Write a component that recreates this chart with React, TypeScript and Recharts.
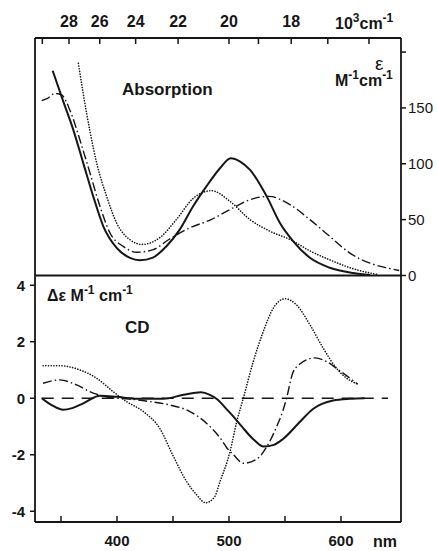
import React from 'react';
import { LineChart, Line, XAxis, YAxis, ReferenceLine } from 'recharts';

// ---------- Absorption (ε, M^-1 cm^-1) vs wavelength (nm) ----------
const absSolidNm = [342.6, 352.1, 361, 369.9, 378.8, 387.8, 399.7, 411.6, 420.5, 432, 444, 456, 468, 480, 492, 501.5, 510, 518.8, 533.7, 545.5, 557.4, 572.3, 590, 611, 626];
const absSolidEps = [183.3, 155.6, 130.4, 100.6, 70.8, 44, 24.7, 15.8, 13.7, 16, 26, 41, 62, 80, 96, 105, 102, 94.6, 70.8, 47, 30.6, 15.8, 6.9, 2.2, 0.5];

const absDashDotNm = [332.8, 338, 344.6, 350.6, 358, 367, 375.9, 384.8, 393.8, 405.6, 417.6, 432.4, 446, 465, 484, 500.9, 518.8, 535.5, 554.5, 572.3, 590, 608, 626, 640, 652];
const absDashDotEps = [156.5, 158.5, 163, 161.6, 148, 121, 91.7, 61.9, 38, 26, 20.8, 23.2, 32, 42.6, 50, 59, 67.9, 70.8, 63.4, 50, 35, 20, 11, 7, 4.5];

const absDottedNm = [365.5, 370, 375.9, 381.9, 390.8, 399.7, 411.6, 422.5, 438.4, 453, 468, 484.5, 501, 518.8, 536.6, 555, 572.3, 590, 611, 632];
const absDottedEps = [190, 162, 129, 100.6, 70.8, 47, 32, 27.8, 34, 50, 69, 75.9, 66.3, 50, 39.6, 32, 22, 14, 6, 1];

// ---------- CD (Δε, M^-1 cm^-1) vs wavelength (nm) ----------
const cdSolidNm = [332.8, 342, 352, 360, 369.9, 384.8, 399.7, 417.6, 441.4, 459.2, 475, 483, 490, 497, 504, 511, 521.7, 531, 540, 548, 563, 575, 593, 608, 621];
const cdSolidVal = [0, -0.25, -0.41, -0.35, -0.18, 0.09, 0.05, -0.02, -0.02, 0.12, 0.21, 0.12, -0.05, -0.35, -0.65, -0.98, -1.45, -1.71, -1.65, -1.45, -0.85, -0.38, -0.08, -0.02, 0];

const cdDashDotNm = [334, 349, 364, 378.8, 393.8, 411.6, 429.5, 447.3, 465.2, 483, 492, 498, 504, 513, 525, 534, 542.6, 548.5, 551.4, 557, 563, 569, 577, 587, 599, 615];
const cdDashDotVal = [0.53, 0.65, 0.47, 0.18, 0.03, -0.03, -0.12, -0.24, -0.47, -1.0, -1.4, -1.75, -2.0, -2.3, -2.15, -1.7, -1.0, -0.4, 0, 0.9, 1.2, 1.36, 1.43, 1.3, 0.97, 0.5];

const cdDottedNm = [334, 349, 367, 381.8, 396.7, 408.6, 423.5, 438.4, 450.3, 462.2, 471.2, 479, 487, 492, 500.9, 506.9, 512.8, 521.7, 530.6, 539.6, 550, 560.4, 572.3, 584.2, 596, 605, 615];
const cdDottedVal = [1.15, 1.15, 1.0, 0.71, 0.23, -0.12, -0.47, -1.08, -2.05, -2.95, -3.42, -3.7, -3.5, -2.95, -1.89, -0.83, 0, 1.3, 2.36, 3.19, 3.52, 3.3, 2.6, 1.77, 1.06, 0.71, 0.5];

const cdZeroNm = [332.8, 642];
const cdZeroVal = [0, 0];

// ---------- Axes ----------
const nmTicks = [350, 400, 450, 500, 550, 600];
const nmLabels = [400, 500, 600];
const waveTicks = [30, 28, 26, 24, 22, 20, 19, 18, 17, 16]; // 10^3 cm^-1
const waveLabels = [28, 26, 24, 22, 20, 18];
const epsTicks = [0, 50, 100, 150, 200];
const epsLabels = [0, 50, 100, 150];
const cdTicks = [-4, -2, 0, 2, 4];

const nmDomain: [number, number] = [326.8, 653.6];
const epsDomain: [number, number] = [-220.7, 212.6];
const cdDomain: [number, number] = [-4.38, 12.75];

const zip = (xs: number[], ys: number[]) => xs.map((x, i) => ({ x, v: ys[i] }));

const INK = '#161616';
const FONT = '"Liberation Sans", Arial, sans-serif';
const tickStyle = { fontSize: 15, fontWeight: 'bold', fill: INK, fontFamily: FONT } as any;

const waveTickNm = waveTicks.map((k) => 1e4 / k);

export default function App() {
  return (
    <div style={{ position: 'absolute', left: 0, top: 0, width: 437, height: 551, background: '#fff' }}>
      <LineChart width={437} height={551} margin={{ top: 0, right: 0, bottom: 0, left: 0 }}>
        <XAxis
          xAxisId="t"
          orientation="top"
          type="number"
          dataKey="x"
          domain={nmDomain}
          allowDataOverflow
          ticks={waveTickNm}
          interval={0}
          height={38}
          tickSize={-6}
          tickMargin={17}
          tick={{ ...tickStyle, fontSize: 16 }}
          tickFormatter={(nm: number) => {
            const k = Math.round(1e4 / nm);
            return waveLabels.includes(k) ? String(k) : '';
          }}
          axisLine={{ stroke: INK, strokeWidth: 1.8 }}
          tickLine={{ stroke: INK, strokeWidth: 1.5 }}
        />
        <XAxis
          xAxisId="b"
          orientation="bottom"
          type="number"
          dataKey="x"
          domain={nmDomain}
          allowDataOverflow
          ticks={nmTicks}
          interval={0}
          height={29}
          tickSize={-6}
          tickMargin={19}
          tick={tickStyle}
          tickFormatter={(v: number) => (nmLabels.includes(v) ? String(v) : '')}
          axisLine={{ stroke: INK, strokeWidth: 1.8 }}
          tickLine={{ stroke: INK, strokeWidth: 1.5 }}
        />
        <YAxis
          yAxisId="cd"
          orientation="left"
          type="number"
          domain={cdDomain}
          allowDataOverflow
          ticks={cdTicks}
          interval={0}
          width={35}
          tickSize={5}
          tickMargin={5}
          tick={tickStyle}
          axisLine={{ stroke: INK, strokeWidth: 1.8 }}
          tickLine={{ stroke: INK, strokeWidth: 1.5 }}
        />
        <YAxis
          yAxisId="abs"
          orientation="right"
          type="number"
          domain={epsDomain}
          allowDataOverflow
          ticks={epsTicks}
          interval={0}
          width={36}
          tickSize={5}
          tickMargin={2}
          tick={{ ...tickStyle, fontWeight: 'normal' }}
          tickFormatter={(v: number) => (epsLabels.includes(v) ? String(v) : '')}
          axisLine={{ stroke: INK, strokeWidth: 1.8 }}
          tickLine={{ stroke: INK, strokeWidth: 1.5 }}
        />
        <ReferenceLine xAxisId="t" yAxisId="abs" y={0} stroke={INK} strokeWidth={1.8} />

        {/* Absorption */}
        <Line xAxisId="t" yAxisId="abs" data={zip(absSolidNm, absSolidEps)} dataKey="v" type="monotone" stroke={INK} strokeWidth={2} dot={false} isAnimationActive={false} />
        <Line xAxisId="t" yAxisId="abs" data={zip(absDashDotNm, absDashDotEps)} dataKey="v" type="monotone" stroke={INK} strokeWidth={1.4} strokeDasharray="9 3 1.5 3" dot={false} isAnimationActive={false} />
        <Line xAxisId="t" yAxisId="abs" data={zip(absDottedNm, absDottedEps)} dataKey="v" type="monotone" stroke={INK} strokeWidth={1.6} strokeDasharray="0.1 2.6" strokeLinecap="round" dot={false} isAnimationActive={false} />

        {/* CD */}
        <Line xAxisId="b" yAxisId="cd" data={zip(cdZeroNm, cdZeroVal)} dataKey="v" type="linear" stroke={INK} strokeWidth={1.5} strokeDasharray="12 8" dot={false} isAnimationActive={false} />
        <Line xAxisId="b" yAxisId="cd" data={zip(cdSolidNm, cdSolidVal)} dataKey="v" type="monotone" stroke={INK} strokeWidth={2} dot={false} isAnimationActive={false} />
        <Line xAxisId="b" yAxisId="cd" data={zip(cdDashDotNm, cdDashDotVal)} dataKey="v" type="monotone" stroke={INK} strokeWidth={1.4} strokeDasharray="9 3 1.5 3" dot={false} isAnimationActive={false} />
        <Line xAxisId="b" yAxisId="cd" data={zip(cdDottedNm, cdDottedVal)} dataKey="v" type="monotone" stroke={INK} strokeWidth={1.6} strokeDasharray="0.1 2.6" strokeLinecap="round" dot={false} isAnimationActive={false} />
      </LineChart>

      <svg width={437} height={551} style={{ position: 'absolute', left: 0, top: 0, pointerEvents: 'none' }} fontFamily={FONT} fontWeight="bold" fill={INK}>
        <text x={335} y={29} fontSize={16}>
          10<tspan dy={-7} fontSize={12}>3</tspan>
          <tspan dy={7} fontSize={16}>cm</tspan>
          <tspan dy={-7} fontSize={12}>-1</tspan>
        </text>
        <text x={122} y={95} fontSize={17}>Absorption</text>
        <text x={375} y={70} fontSize={19} fontWeight="normal">ε</text>
        <text x={335} y={86} fontSize={16}>
          M<tspan dy={-7} fontSize={12}>-1</tspan>
          <tspan dy={7} fontSize={16}>cm</tspan>
          <tspan dy={-7} fontSize={12}>-1</tspan>
        </text>
        <text x={47} y={301} fontSize={16}>
          Δε M<tspan dy={-7} fontSize={12}>-1</tspan>
          <tspan dy={7} fontSize={16}> cm</tspan>
          <tspan dy={-7} fontSize={12}>-1</tspan>
        </text>
        <text x={125} y={333} fontSize={17}>CD</text>
        <text x={373} y={547} fontSize={16}>nm</text>
      </svg>
    </div>
  );
}
